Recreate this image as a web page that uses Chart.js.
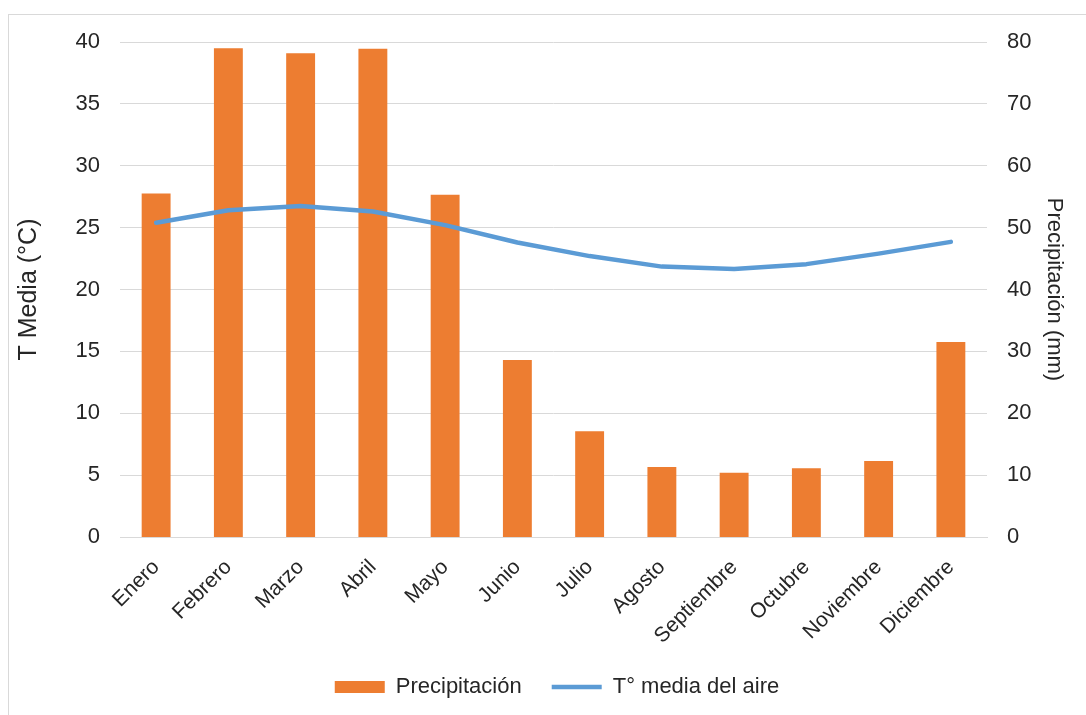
<!DOCTYPE html>
<html>
<head>
<meta charset="utf-8">
<script src="https://cdn.jsdelivr.net/npm/chart.js@4/dist/chart.umd.min.js"></script>
<style>
  html, body { margin: 0; padding: 0; background: #fff; overflow: hidden; }
  #wrap { position: relative; width: 1086px; height: 715px; }
  #frame { position: absolute; left: 8px; top: 14px; width: 1100px; height: 720px; border: 1px solid #d9d9d9; }
  canvas { position: absolute; left: 0; top: 0; }
</style>
</head>
<body>
<div id="wrap">
  <div id="frame"></div>
  <canvas id="climaChart" width="1086" height="715"></canvas>
</div>
<script>
const meses = ['Enero', 'Febrero', 'Marzo', 'Abril', 'Mayo', 'Junio', 'Julio', 'Agosto', 'Septiembre', 'Octubre', 'Noviembre', 'Diciembre'];
const precipitacion = [55.5, 79.0, 78.2, 78.9, 55.3, 28.6, 17.1, 11.3, 10.4, 11.1, 12.3, 31.5];
const temperatura = [25.4, 26.4, 26.75, 26.3, 25.2, 23.8, 22.7, 21.85, 21.65, 22.05, 22.9, 23.85];
const ticksTemp = [0, 5, 10, 15, 20, 25, 30, 35, 40];
const ticksPrec = [0, 10, 20, 30, 40, 50, 60, 70, 80];

const texto = '#262626';
const rejilla = '#d9d9d9';
const fuente = 'Liberation Sans, Arial, sans-serif';

const ctx = document.getElementById('climaChart').getContext('2d');
new Chart(ctx, {
    type: 'bar',
    data: {
        labels: meses,
        datasets: [{
            label: 'Precipitación',
            data: precipitacion,
            backgroundColor: '#ed7d31',
            yAxisID: 'yPrec',
            barPercentage: 0.4,
            categoryPercentage: 1,
            order: 2
        }, {
            type: 'line',
            label: 'T° media del aire',
            data: temperatura,
            borderColor: '#5b9bd5',
            backgroundColor: '#5b9bd5',
            borderWidth: 4.5,
            borderCapStyle: 'round',
            borderJoinStyle: 'round',
            pointRadius: 0,
            tension: 0,
            yAxisID: 'yTemp',
            order: 1
        }]
    },
    options: {
        responsive: false,
        animation: false,
        // el margen izquierdo mayor desplaza la leyenda hacia el centro del área de trazado
        layout: { padding: { left: 47, right: 19, top: 42, bottom: 7 } },
        plugins: {
            tooltip: { enabled: false },
            legend: {
                position: 'bottom',
                labels: {
                    color: texto,
                    font: { family: fuente, size: 22 },
                    usePointStyle: true,
                    pointStyleWidth: 50,
                    boxHeight: 12,
                    padding: 30,
                    sort: (a, b) => a.datasetIndex - b.datasetIndex,
                    generateLabels(chart) {
                        const items = Chart.defaults.plugins.legend.labels.generateLabels(chart);
                        items.forEach(it => {
                            const esBarra = it.datasetIndex === 0;
                            it.pointStyle = esBarra ? 'rect' : 'line';
                            it.lineWidth = esBarra ? 0 : 4.5;
                        });
                        return items;
                    }
                }
            }
        },
        scales: {
            x: {
                grid: { display: false },
                border: { color: rejilla },
                afterFit(axis) { axis.height = 109; },
                ticks: {
                    color: texto,
                    font: { family: fuente, size: 21 },
                    minRotation: 45,
                    maxRotation: 45,
                    padding: 10
                }
            },
            yTemp: {
                position: 'left',
                min: 0,
                max: 40,
                afterBuildTicks(axis) { axis.ticks = ticksTemp.map(v => ({ value: v })); },
                afterFit(axis) { axis.width = 73; },
                grid: { color: rejilla, drawTicks: false },
                border: { display: false },
                ticks: { color: texto, font: { family: fuente, size: 22 }, padding: 20 },
                title: { display: true, text: 'T Media (°C)', color: texto, font: { family: fuente, size: 25 }, padding: { top: -33, bottom: 0 } }
            },
            yPrec: {
                position: 'right',
                min: 0,
                max: 80,
                afterBuildTicks(axis) { axis.ticks = ticksPrec.map(v => ({ value: v })); },
                afterFit(axis) { axis.width = 80; },
                grid: { display: false, drawTicks: false },
                border: { display: false },
                ticks: { color: texto, font: { family: fuente, size: 22 }, padding: 20 },
                title: { display: true, text: 'Precipitación (mm)', color: texto, font: { family: fuente, size: 22 }, padding: { top: 0, bottom: 0 } }
            }
        }
    }
});
</script>
</body>
</html>
